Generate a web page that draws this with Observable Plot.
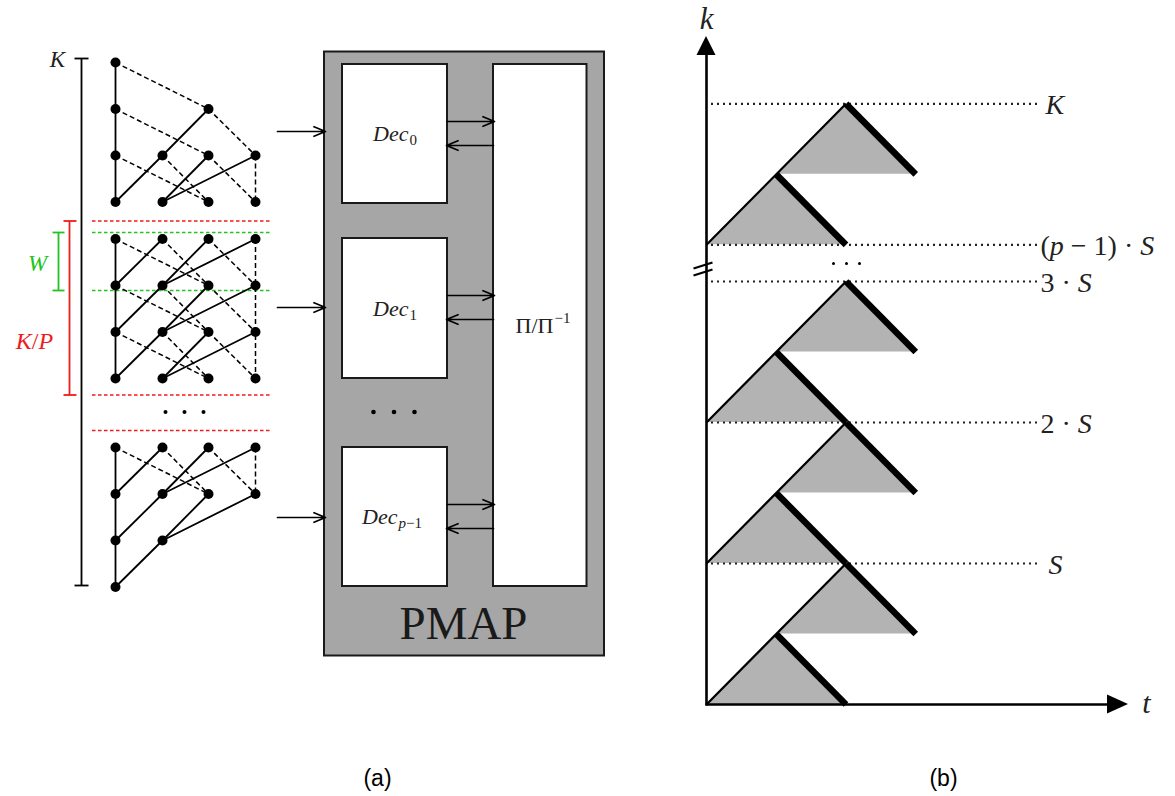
<!DOCTYPE html>
<html><head><meta charset="utf-8">
<script src="https://cdn.jsdelivr.net/npm/d3@7"></script>
<script src="https://cdn.jsdelivr.net/npm/@observablehq/plot@0.6"></script>
<style>body{margin:0;background:#fff}#chart svg{display:block}</style>
</head><body><div id="chart"></div>
<script>
// ================= DATA =================
// (a) trellis nodes of the three shown windows: [block, column, row]
const trellisNodes = [
  [0,0,0],[0,0,1],[0,0,2],[0,0,3],[0,1,2],[0,1,3],[0,2,1],[0,2,2],[0,2,3],[0,3,2],[0,3,3],
  [1,0,0],[1,0,1],[1,0,2],[1,0,3],[1,1,0],[1,1,1],[1,1,2],[1,1,3],
  [1,2,0],[1,2,1],[1,2,2],[1,2,3],[1,3,0],[1,3,1],[1,3,2],[1,3,3],
  [2,0,0],[2,0,1],[2,0,2],[2,0,3],[2,1,0],[2,1,1],[2,1,2],[2,2,0],[2,2,1],[2,3,0],[2,3,1]
];
// trellis branches: [block, fromColumn, fromRow, toColumn, toRow]
const solidEdges = [
  [0,0,0,0,3],[0,0,3,1,2],[0,1,2,2,1],[0,1,3,2,2],[0,1,3,3,2],
  [1,0,0,0,3],[1,0,1,1,0],[1,0,2,1,1],[1,0,3,1,2],[1,1,1,2,0],[1,1,1,3,0],
  [1,1,2,2,1],[1,1,2,3,1],[1,1,3,2,2],[1,1,3,3,2],
  [2,0,0,0,3],[2,0,1,1,0],[2,0,2,1,1],[2,0,3,1,2],[2,1,1,2,0],[2,1,1,3,0],[2,1,2,2,1],[2,1,2,3,1]
];
const dashedEdges = [
  [0,0,0,2,1],[0,0,1,2,2],[0,0,2,2,3],[0,1,2,2,3],[0,2,1,3,2],[0,2,2,3,3],[0,3,2,3,3],
  [1,0,0,2,1],[1,0,1,2,2],[1,0,2,2,3],[1,1,0,2,1],[1,1,1,2,2],[1,1,2,2,3],
  [1,2,0,3,1],[1,2,1,3,2],[1,2,2,3,3],[1,3,0,3,3],
  [2,0,0,2,1],[2,1,0,2,1],[2,2,0,3,1],[2,3,0,3,1]
];
const decoderNames = ["Dec", "Dec", "Dec"];
const decoderSubs = ["0", "1", "p−1"];
const interleaverLabel = "Π/Π";
const interleaverSup = "−1";
const engineLabel = "PMAP";
const bracketLabels = ["K", "W", "K/P"];
const ellipsis = ["·", "·", "·"];
// (b) window pairs along k and level labels
const windowPairs = ["0", "1", "2", "p−1"];
const levelLabels = ["S", "2 · S", "3 · S", "(p − 1) · S", "K"];
const axisLabels = ["k", "t"];
const captions = ["(a)", "(b)"];

// ================= LAYOUT =================
const W = 1175, H = 796;
const serif = "Liberation Serif, DejaVu Serif, serif";
const sans = "Liberation Sans, Arial, sans-serif";
const colX = [115, 162, 208, 255];
const blockTop = [62, 238.5, 447];
const rowStep = 46.5;
const ty = (b, r) => blockTop[b] + r * rowStep;
const decTop = [64, 238, 447], decBot = [203, 378, 586];
const inputY = [131, 307, 517];
const decLabelX = [408, 408, 397];
const decBase = [140, 315, 523];
// panel b: t/k units -> page
const ox = 706, oy = 704, ux = 139.5, uy = 141;
const bx = t => ox + t * ux;
const by = k => oy - k * uy;
const pairK = [0, 1, 2, 3.26];
const levelK = [1, 2, 3, 3.26, 4.26];
const levelLabelX = [1048, 1040, 1040, 1040, 1045];

const pairs = windowPairs.map((name, i) => ({name, k: pairK[i]}));
const lowerPts = pairs.flatMap(p => [[0, 0], [0.5, 0.5], [1, 0]].map(([t, h]) => ({id: p.name, t, base: p.k, top: p.k + h})));
const upperPts = pairs.flatMap(p => [[0.5, 0], [1, 0.5], [1.5, 0]].map(([t, h]) => ({id: p.name, t, base: p.k + 0.5, top: p.k + 0.5 + h})));
const levels = levelLabels.map((label, i) => ({label, k: levelK[i], x: levelLabelX[i]}));
const decs = decoderNames.map((name, i) => ({name, sub: decoderSubs[i], top: decTop[i], bot: decBot[i], inY: inputY[i], lx: decLabelX[i], base: decBase[i]}));

const eX = (d, i) => [165, 184, 203][i];
const dX = (d, i) => [373, 393.5, 414][i];
const bX = (d, i) => [833, 846, 859][i];

const chart = Plot.plot({
  width: W, height: H, margin: 0,
  x: {domain: [0, W], range: [0, W], axis: null},
  y: {domain: [0, H], range: [0, H], axis: null},
  style: {background: "white", overflow: "visible"},
  marks: [
    // ---------- panel (a) ----------
    Plot.link([0], {x1: 81, x2: 81, y1: 58, y2: 585, stroke: "black", strokeWidth: 1.8}),
    Plot.link([58, 585], {x1: 74, x2: 88, y1: d => d, y2: d => d, stroke: "black", strokeWidth: 1.8}),
    Plot.ruleY([220.5, 394.5, 430], {y: d => d, x1: 92, x2: 272, stroke: "#ee1c1c", strokeDasharray: "3.5,2.5", strokeWidth: 1.6}),
    Plot.ruleY([232, 290], {y: d => d, x1: 92, x2: 272, stroke: "#22c322", strokeDasharray: "3.5,2.5", strokeWidth: 1.6}),
    Plot.link([0], {x1: 69, x2: 69, y1: 220.5, y2: 394.5, stroke: "#ee1c1c", strokeWidth: 1.8}),
    Plot.link([220.5, 394.5], {x1: 63, x2: 76, y1: d => d, y2: d => d, stroke: "#ee1c1c", strokeWidth: 1.8}),
    Plot.link([0], {x1: 58, x2: 58, y1: 232, y2: 290, stroke: "#22c322", strokeWidth: 1.8}),
    Plot.link([232, 290], {x1: 52, x2: 64, y1: d => d, y2: d => d, stroke: "#22c322", strokeWidth: 1.8}),
    Plot.text([bracketLabels[0]], {x: 57, y: 66, text: d => d, fontFamily: serif, fontSize: 23, fill: "#222", lineAnchor: "bottom"}),
    Plot.text([bracketLabels[1]], {x: 37, y: 270, text: d => d, fontFamily: serif, fontSize: 23, fill: "#22c322", lineAnchor: "bottom"}),
    Plot.text([bracketLabels[2]], {x: 34, y: 348, text: d => d, fontFamily: serif, fontSize: 24, fill: "#ee1c1c", lineAnchor: "bottom"}),
    // trellis
    Plot.link(dashedEdges, {x1: d => colX[d[1]], y1: d => ty(d[0], d[2]), x2: d => colX[d[3]], y2: d => ty(d[0], d[4]), stroke: "black", strokeWidth: 1.5, strokeDasharray: "5,3"}),
    Plot.link(solidEdges, {x1: d => colX[d[1]], y1: d => ty(d[0], d[2]), x2: d => colX[d[3]], y2: d => ty(d[0], d[4]), stroke: "black", strokeWidth: 1.8}),
    Plot.dot(trellisNodes, {x: d => colX[d[1]], y: d => ty(d[0], d[2]), r: 5, fill: "black"}),
    Plot.dot(ellipsis, {x: eX, y: 411.5, r: 2, fill: "black"}),
    // PMAP engine
    Plot.rect([engineLabel], {x1: 324, x2: 604, y1: 51.5, y2: 655.5, fill: "#a6a6a6", stroke: "#1a1a1a", strokeWidth: 2}),
    Plot.rect(decs, {x1: 342, x2: 447, y1: "top", y2: "bot", fill: "white", stroke: "#1a1a1a", strokeWidth: 2}),
    Plot.rect([interleaverLabel], {x1: 493, x2: 586.5, y1: 64, y2: 586, fill: "white", stroke: "#1a1a1a", strokeWidth: 2}),
    Plot.arrow(decs, {x1: 277, x2: 325, y1: "inY", y2: "inY", stroke: "black", strokeWidth: 1.7, headLength: 11, headAngle: 45}),
    Plot.arrow(decs, {x1: 447, x2: 494, y1: d => d.top + 57, y2: d => d.top + 57, stroke: "black", strokeWidth: 1.7, headLength: 11, headAngle: 45}),
    Plot.arrow(decs, {x1: 493, x2: 446, y1: d => d.top + 81, y2: d => d.top + 81, stroke: "black", strokeWidth: 1.7, headLength: 11, headAngle: 45}),
    Plot.text(decs, {x: "lx", y: "base", text: "name", textAnchor: "end", fontFamily: serif, fontSize: 22, fill: "#222", lineAnchor: "bottom"}),
    Plot.text(decs, {x: d => d.lx + 1, y: d => d.base + 4, text: "sub", textAnchor: "start", fontFamily: serif, fontSize: 15, fill: "#222", lineAnchor: "bottom"}),
    Plot.text([interleaverLabel], {x: 553, y: 332, text: d => d, textAnchor: "end", fontFamily: serif, fontSize: 22, fill: "#222", lineAnchor: "bottom"}),
    Plot.text([interleaverSup], {x: 554, y: 322, text: d => d, textAnchor: "start", fontFamily: serif, fontSize: 15, fill: "#222", lineAnchor: "bottom"}),
    Plot.dot(ellipsis, {x: dX, y: 411.5, r: 2.3, fill: "black"}),
    Plot.text([engineLabel], {x: 463, y: 638, text: d => d, fontFamily: serif, fontSize: 47, fill: "#1a1a1a", lineAnchor: "bottom"}),

    // ---------- panel (b) ----------
    Plot.areaY(lowerPts, {x: d => bx(d.t), y1: d => by(d.base), y2: d => by(d.top), z: "id", fill: "#b3b3b3", curve: "linear"}),
    Plot.areaY(upperPts, {x: d => bx(d.t), y1: d => by(d.base), y2: d => by(d.top), z: "id", fill: "#b3b3b3", curve: "linear"}),
    Plot.ruleY(levels, {y: d => by(d.k), x1: 711, x2: 1040, stroke: "#222", strokeDasharray: "2,4", strokeWidth: 2.2}),
    Plot.link(pairs, {x1: bx(0), y1: d => by(d.k), x2: bx(1), y2: d => by(d.k + 1), stroke: "black", strokeWidth: 2.2}),
    Plot.link(pairs, {x1: bx(0.5), y1: d => by(d.k + 0.5), x2: bx(1), y2: d => by(d.k), stroke: "black", strokeWidth: 6.5}),
    Plot.link(pairs, {x1: bx(1), y1: d => by(d.k + 1), x2: bx(1.5), y2: d => by(d.k + 0.5), stroke: "black", strokeWidth: 6.5}),
    // axes
    Plot.link([axisLabels[0]], {x1: ox, x2: ox, y1: oy + 1, y2: 52, stroke: "black", strokeWidth: 2.6}),
    Plot.link([axisLabels[1]], {x1: ox - 1, x2: 1110, y1: oy, y2: oy, stroke: "black", strokeWidth: 2.6}),
    Plot.areaY([{x: 696.5, t: 55}, {x: ox, t: 36}, {x: 715.5, t: 55}], {x: "x", y1: 55, y2: "t", fill: "black", curve: "linear"}),
    Plot.areaX([{y: 694.5, t: 1107}, {y: oy, t: 1128}, {y: 713.5, t: 1107}], {y: "y", x1: 1107, x2: "t", fill: "black", curve: "linear"}),
    // axis break
    Plot.link([0, 7], {x1: 693, x2: 712, y1: d => 268 + d, y2: d => 262 + d, stroke: "black", strokeWidth: 2.2}),
    Plot.dot(ellipsis, {x: bX, y: 263, r: 1.5, fill: "black"}),
    Plot.text([axisLabels[0]], {x: 706, y: 28, text: d => d, fontFamily: serif, fontSize: 31, fill: "#222", lineAnchor: "bottom"}),
    Plot.text([axisLabels[1]], {x: 1146, y: 712, text: d => d, fontFamily: serif, fontSize: 30, fill: "#222", lineAnchor: "bottom"}),
    Plot.text(levels, {x: "x", y: d => by(d.k) + 10, text: "label", textAnchor: "start", fontFamily: serif, fontSize: 28, fill: "#222", lineAnchor: "bottom"}),

    // captions
    Plot.text(captions, {x: (d, i) => [377, 943][i], y: 778, text: d => d, fontFamily: sans, fontSize: 23, fill: "black", lineAnchor: "middle"})
  ]
});

// italicise Latin letters in the math labels
const mathLabels = new Set([...bracketLabels, ...decoderNames, ...decoderSubs, ...levelLabels, ...axisLabels]);
chart.querySelectorAll("text").forEach(t => {
  const s = t.textContent;
  if (!mathLabels.has(s)) return;
  t.textContent = "";
  s.split(/([A-Za-z]+)/).forEach((part, i) => {
    if (!part) return;
    const ts = document.createElementNS("http://www.w3.org/2000/svg", "tspan");
    if (i % 2) ts.setAttribute("font-style", "italic");
    ts.textContent = part;
    t.appendChild(ts);
  });
});
document.getElementById("chart").appendChild(chart);
</script>
</body></html>
